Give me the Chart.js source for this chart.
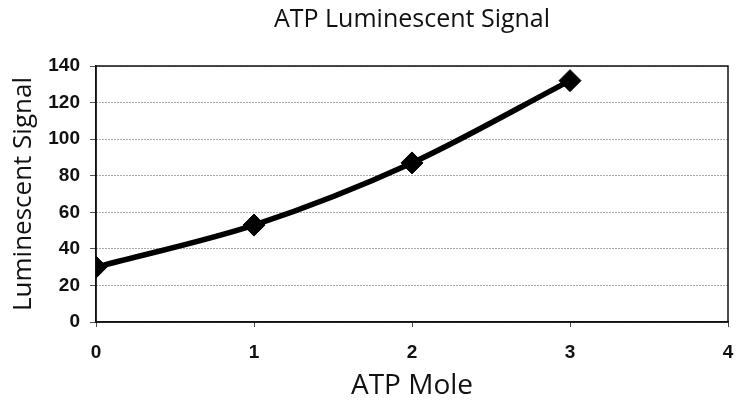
<!DOCTYPE html>
<html>
<head>
<meta charset="utf-8">
<script src="https://cdn.jsdelivr.net/npm/chart.js@4/dist/chart.umd.min.js"></script>
<style>
  html, body { margin: 0; padding: 0; background: #ffffff; }
  #wrap { width: 740px; height: 404px; }
</style>
</head>
<body>
<div id="wrap"><canvas id="c" width="740" height="404"></canvas></div>
<script>
const chartTitle = "ATP Luminescent Signal";
const xAxisTitle = "ATP Mole";
const yAxisTitle = "Luminescent Signal";
const atpMole = [0, 1, 2, 3];
const luminescentSignal = [30, 53, 87, 132];
const xTicks = [0, 1, 2, 3, 4];
const yTicks = [0, 20, 40, 60, 80, 100, 120, 140];

const points = atpMole.map((x, i) => ({ x: x, y: luminescentSignal[i] }));

const frame = {
  id: 'frame',
  beforeDatasetsDraw(chart) {
    const a = chart.chartArea;
    const ctx = chart.ctx;
    ctx.save();
    ctx.strokeStyle = '#111';
    ctx.lineWidth = 1.5;
    ctx.strokeRect(a.left, a.top, a.right - a.left, a.bottom - a.top);
    ctx.restore();
  }
};

new Chart(document.getElementById('c'), {
  type: 'line',
  data: {
    datasets: [{
      data: points,
      borderColor: '#000',
      backgroundColor: '#000',
      borderWidth: 5.5,
      tension: 0.3,
      pointStyle: 'rectRot',
      pointRadius: 11,
      pointBorderWidth: 1,
      pointBackgroundColor: '#000',
      pointBorderColor: '#000',
      fill: false
    }]
  },
  options: {
    responsive: false,
    animation: false,
    devicePixelRatio: 1,
    layout: { padding: { left: 0, right: 0, top: 0, bottom: 0 } },
    plugins: {
      legend: { display: false },
      tooltip: { enabled: false },
      title: {
        display: true,
        fullSize: false,
        text: chartTitle,
        color: '#111',
        font: { family: 'Open Sans', size: 25, weight: 'normal' },
        padding: { top: 5, bottom: 31 }
      }
    },
    scales: {
      x: {
        type: 'linear',
        min: 0, max: 4,
        afterFit(scale) { scale.height = 82; scale.paddingRight = 10; scale.paddingLeft = 0; },
        afterBuildTicks(scale) { scale.ticks = xTicks.map(v => ({ value: v })); },
        grid: { drawOnChartArea: false, drawTicks: true, tickLength: 5, color: '#444' },
        border: { display: true, color: '#111', width: 1.5 },
        ticks: {
          color: '#111',
          padding: 14,
          font: { family: 'Liberation Sans', size: 19, weight: 'bold' }
        },
        title: {
          display: true,
          text: xAxisTitle,
          color: '#111',
          font: { family: 'Open Sans', size: 28, weight: 'normal' },
          padding: 1
        }
      },
      y: {
        min: 0, max: 140,
        afterFit(scale) { scale.width = 96; },
        afterBuildTicks(scale) { scale.ticks = yTicks.map(v => ({ value: v })); },
        grid: {
          color: '#555',
          lineWidth: 1,
          tickLength: 6,
          tickColor: '#555'
        },
        border: { display: true, color: '#111', width: 1.5, dash: [1, 2] },
        ticks: {
          color: '#111',
          padding: 10,
          font: { family: 'Liberation Sans', size: 19, weight: 'bold' }
        },
        title: {
          display: true,
          text: yAxisTitle,
          color: '#111',
          font: { family: 'Open Sans', size: 26, weight: 'normal' },
          padding: 8
        }
      }
    }
  },
  plugins: [frame]
});
</script>
</body>
</html>
